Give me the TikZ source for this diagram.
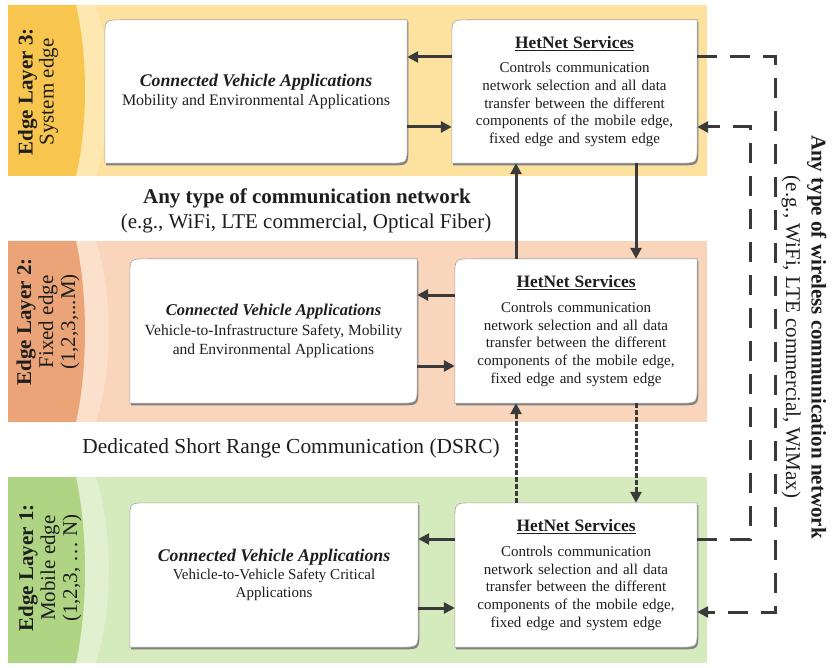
\documentclass[tikz,border=0pt]{standalone}
\usepackage{fontspec}
\setmainfont{Liberation Serif}
\usetikzlibrary{arrows.meta,calc}
\pgfdeclarelayer{bands}\pgfdeclarelayer{boxes}
\pgfsetlayers{bands,boxes,main}
\definecolor{yelL}{HTML}{FCE29E}\definecolor{yelD}{HTML}{F8C64F}\definecolor{yelH}{HTML}{FDE8B2}
\definecolor{peaL}{HTML}{F9D5BC}\definecolor{peaD}{HTML}{EBA478}\definecolor{peaH}{HTML}{FBE0CC}
\definecolor{grnL}{HTML}{D6EBBD}\definecolor{grnD}{HTML}{AFD584}\definecolor{grnH}{HTML}{E1F0CF}
\definecolor{ink}{HTML}{1E1E1E}\definecolor{arrc}{HTML}{3A3A3A}
\newcommand\bxp[2]{([shift={#2}]#1.south west) -- ([shift={#2},yshift=-18pt]#1.north west) .. controls ([shift={#2}]#1.north west) .. ([shift={#2},xshift=18pt]#1.north west) -- ([shift={#2}]#1.north east) -- ([shift={#2},yshift=18pt]#1.south east) .. controls ([shift={#2}]#1.south east) .. ([shift={#2},xshift=-18pt]#1.south east) -- cycle}
\newcommand\drawbx[1]{\fill[black!50] \bxp{#1}{(1.2pt,-2.2pt)}; \filldraw[fill=white,draw=black!35,line width=0.6pt] \bxp{#1}{(0pt,0pt)};}
\newcommand\band[5]{% top bottom light dark halo
  \fill[#3] (8,#1) rectangle (707,#2);
  \fill[#5] (74,#1) -- (96,#1) .. controls (113,{#1+(#2-#1)*0.3}) and (113,{#1+(#2-#1)*0.7}) .. (96,#2) -- (74,#2) -- cycle;
  \fill[#4] (8,#1) -- (76,#1) .. controls (88,{#1+(#2-#1)*0.3}) and (88,{#1+(#2-#1)*0.7}) .. (76,#2) -- (8,#2) -- cycle;}
\begin{document}
\begin{tikzpicture}[x=1pt,y=-1pt,
  bx/.style={inner sep=0pt,align=center,text=ink},
  hn/.style={bx,font=\fontsize{15}{17.7}\selectfont,minimum width=242pt,minimum height=144pt,text width=236pt},
  lbl/.style={text=ink,align=center,inner sep=0pt},
  arr/.style={draw=arrc,line width=3pt,-{Triangle[length=11pt,width=11pt]}},
  darr/.style={arr,dash pattern=on 20pt off 13pt},
  oarr/.style={arr,dash pattern=on 4.5pt off 2.5pt}]
\useasboundingbox (0,0) rectangle (832,668);
\begin{pgfonlayer}{bands}
\fill[white] (0,0) rectangle (832,668);
\band{5}{176}{yelL}{yelD}{yelH}
\band{241}{422}{peaL}{peaD}{peaH}
\band{477}{663}{grnL}{grnD}{grnH}
\end{pgfonlayer}
% boxes
\node[bx,font=\fontsize{16}{19.5}\selectfont,minimum width=302pt,minimum height=143pt] (cva3) at (256,91.5)
 {{\fontsize{17.8}{20}\selectfont\textbf{\textit{Connected Vehicle Applications}}}\\Mobility and Environmental Applications};
\node[hn,minimum width=245pt,minimum height=143pt] (het3) at (574.5,91.5)
 {{\fontsize{17.4}{20}\selectfont\textbf{\underline{HetNet Services}}}\\[7pt]Controls communication\\network selection and all data\\transfer between the different\\components of the mobile edge,\\fixed edge and system edge\\[4pt]};
\node[bx,font=\fontsize{15.5}{19.5}\selectfont,minimum width=287pt,minimum height=144pt] (cva2) at (273.5,331)
 {{\fontsize{16.5}{19}\selectfont\textbf{\textit{Connected Vehicle Applications}}}\\Vehicle-to-Infrastructure Safety, Mobility\\and Environmental Applications};
\node[hn] (het2) at (576,331)
 {{\fontsize{17.4}{20}\selectfont\textbf{\underline{HetNet Services}}}\\[7pt]Controls communication\\network selection and all data\\transfer between the different\\components of the mobile edge,\\fixed edge and system edge\\[4pt]};
\node[bx,font=\fontsize{15}{18}\selectfont,minimum width=288pt,minimum height=144pt] (cva1) at (274,575)
 {{\fontsize{17.8}{20}\selectfont\textbf{\textit{Connected Vehicle Applications}}}\\Vehicle-to-Vehicle Safety Critical\\Applications};
\node[hn] (het1) at (576,575)
 {{\fontsize{17.4}{20}\selectfont\textbf{\underline{HetNet Services}}}\\[7pt]Controls communication\\network selection and all data\\transfer between the different\\components of the mobile edge,\\fixed edge and system edge\\[4pt]};
\begin{pgfonlayer}{boxes}
\drawbx{cva3}\drawbx{het3}\drawbx{cva2}\drawbx{het2}\drawbx{cva1}\drawbx{het1}
\end{pgfonlayer}
% side labels
\node[lbl,rotate=90,font=\fontsize{21}{21}\selectfont] (l3) at (38,92) {\textbf{Edge Layer 3:}\\System edge};
\node[lbl,rotate=90,font=\fontsize{21}{22}\selectfont] (l2) at (48,322) {\textbf{Edge Layer 2:}\\Fixed edge\\(1,2,3,...M)};
\node[lbl,rotate=90,font=\fontsize{21}{22}\selectfont] (l1) at (50,568) {\textbf{Edge Layer 1:}\\Mobile edge\\(1,2,3, … N)};
% middle texts
\node[lbl,font=\bfseries\fontsize{21}{24}\selectfont] (anyt) at (307,198) {Any type of communication network};
\node[lbl,font=\fontsize{21}{24}\selectfont] (eg) at (306,223) {(e.g., WiFi, LTE commercial, Optical Fiber)};
\node[lbl,font=\fontsize{21.4}{24}\selectfont] (dsrc) at (291,448) {Dedicated Short Range Communication (DSRC)};
\node[lbl,rotate=-90,font=\fontsize{21}{25.5}\selectfont] (wl) at (804,337) {\textbf{Any type of wireless communication network}\\(e.g., WiFi, LTE commercial, WiMax)};
% level coordinates
\coordinate (y57) at (0,57); \coordinate (y127) at (0,127);
\coordinate (y295) at (0,295); \coordinate (y366) at (0,366);
\coordinate (y539) at (0,539); \coordinate (y608) at (0,608);
\coordinate (y612) at (0,612);
\coordinate (xa) at (516,0); \coordinate (xb) at (636,0);
\coordinate (o1) at (775,57); \coordinate (o2) at (775,612);
\coordinate (i1) at (750,539); \coordinate (i2) at (750,127);
% layer arrows
\draw[arr] (het3.west |- y57) -- (cva3.east |- y57);
\draw[arr] (cva3.east |- y127) -- (het3.west |- y127);
\draw[arr] (het2.west |- y295) -- (cva2.east |- y295);
\draw[arr] (cva2.east |- y366) -- (het2.west |- y366);
\draw[arr] (het1.west |- y539) -- (cva1.east |- y539);
\draw[arr] (cva1.east |- y608) -- (het1.west |- y608);
% between layers
\draw[arr] (het2.north -| xa) -- (het3.south -| xa);
\draw[arr] (het3.south -| xb) -- (het2.north -| xb);
\draw[oarr] (het1.north -| xa) -- (het2.south -| xa);
\draw[oarr] (het2.south -| xb) -- (het1.north -| xb);
% wireless dashed
\draw[darr] (het3.east |- y57) -- (o1) -- (o2) -- (het1.east |- y612);
\draw[darr] (het1.east |- y539) -- (i1) -- (i2) -- (het3.east |- y127);
\end{tikzpicture}
\end{document}
